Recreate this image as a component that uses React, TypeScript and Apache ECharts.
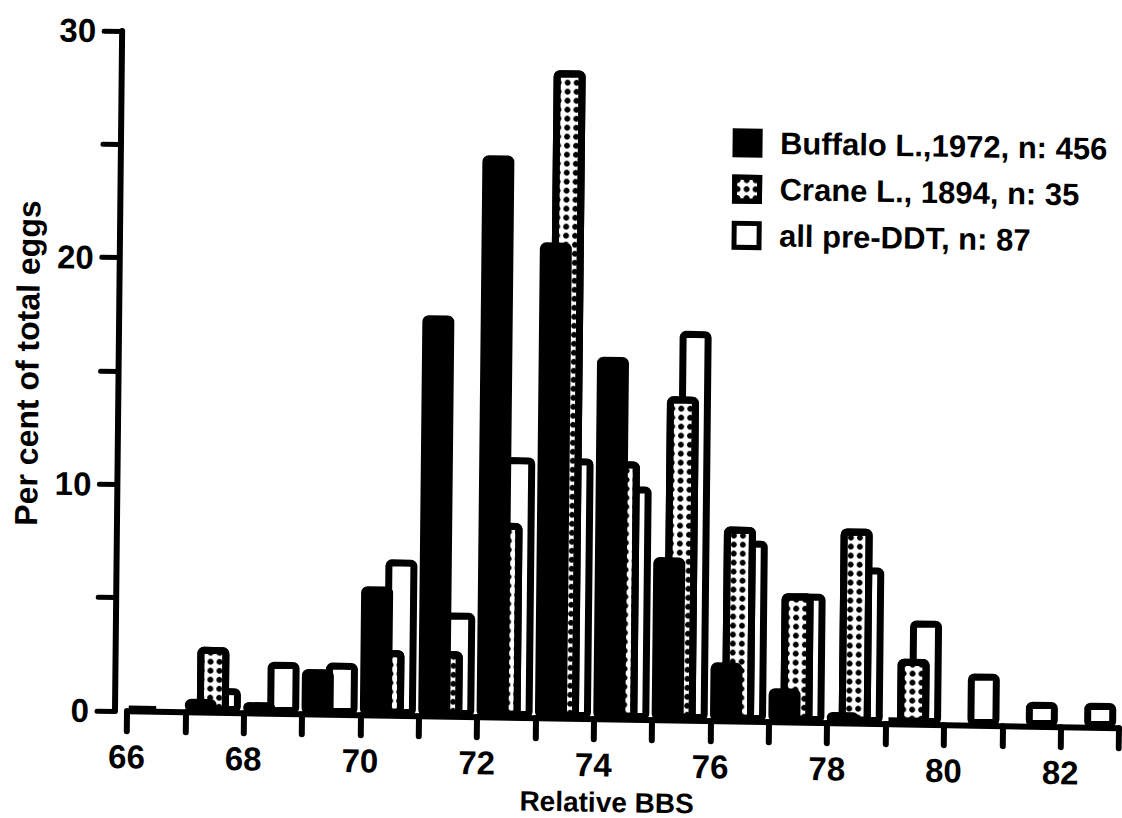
import React, { useEffect, useRef } from "react";
import * as echarts from "echarts";

// ---- data ----
const categories = [66, 67, 68, 69, 70, 71, 72, 73, 74, 75, 76, 77, 78, 79, 80, 81, 82];
const buffalo1972 = [0.2, 0.6, 0.5, 2.0, 5.7, 17.7, 24.8, 21.0, 16.0, 7.2, 2.6, 1.5, 0.5, 0.3, 0, 0, 0];
const crane1894 = [0, 2.9, 0, 0, 2.9, 2.9, 8.6, 28.6, 11.4, 14.3, 8.6, 5.7, 8.6, 2.9, 0, 0, 0];
const preDDT = [0, 1.1, 2.3, 2.3, 6.9, 4.6, 11.5, 11.5, 10.3, 17.2, 8.0, 5.7, 6.9, 4.6, 2.3, 1.1, 1.1];
const seriesNames = ["Buffalo L.,1972, n: 456", "Crane L., 1894, n: 35", "all pre-DDT, n: 87"];
const xTickLabels = [66, 68, 70, 72, 74, 76, 78, 80, 82];
const yTickLabels = [0, 10, 20, 30];

const FONT = '"Liberation Sans", Arial, Helvetica, sans-serif';
const GROUP_SHIFT = 0.47; // bars of a class sit inside the interval [k, k+1]

function toPoints(values: number[]) {
  return categories
    .map((c, i) => [c + GROUP_SHIFT, values[i]])
    .filter((p) => p[1] > 0);
}

const barCommon = {
  type: "bar" as const,
  barWidth: 32,
  barGap: "-62.5%",
};

const option: any = {
  animation: false,
  backgroundColor: "#fff",
  textStyle: { fontFamily: FONT, fontWeight: "bold", color: "#000" },
  grid: { left: 123, right: 2, top: 31, bottom: 107 },
  legend: {
    orient: "vertical",
    left: 726.5,
    top: 116.7,
    padding: 0,
    itemGap: 15.25,
    itemWidth: 25,
    itemHeight: 24,
    icon: "rect",
    selectedMode: false,
    itemStyle: { borderWidth: 5 },
    textStyle: {
      fontFamily: FONT,
      fontWeight: "bold",
      fontSize: 31,
      lineHeight: 30,
      color: "#000",
      padding: [0, 0, 0, 15],
    },
    data: seriesNames,
  },
  xAxis: {
    type: "value",
    min: 66,
    max: 83,
    interval: 1,
    axisLine: { onZero: false, lineStyle: { color: "#000", width: 6 } },
    axisTick: { length: 20, lineStyle: { color: "#000", width: 6, cap: "round" } },
    axisLabel: {
      margin: 29,
      fontFamily: FONT,
      fontWeight: "bold",
      fontSize: 33,
      color: "#000",
      formatter: (v: number) => (xTickLabels.includes(v) ? String(v) : ""),
    },
    splitLine: { show: false },
    name: "Relative BBS",
    nameLocation: "middle",
    nameGap: 69,
    nameTextStyle: {
      fontFamily: FONT,
      fontWeight: "bold",
      fontSize: 28,
      color: "#000",
      padding: [0, 31, 0, 0],
    },
  },
  yAxis: {
    type: "value",
    min: 0,
    max: 30,
    interval: 5,
    offset: 12,
    axisLine: { show: true, lineStyle: { color: "#000", width: 6 } },
    axisTick: { show: true, length: 18, lineStyle: { color: "#000", width: 5, cap: "round" } },
    axisLabel: {
      margin: 26,
      fontFamily: FONT,
      fontWeight: "bold",
      fontSize: 33,
      color: "#000",
      formatter: (v: number) => (yTickLabels.includes(v) ? String(v) : ""),
    },
    splitLine: { show: false },
    name: "Per cent of total eggs",
    nameLocation: "middle",
    nameGap: 75,
    nameTextStyle: {
      fontFamily: FONT,
      fontWeight: "bold",
      fontSize: 32,
      color: "#000",
      padding: [0, 0, 0, 13],
    },
  },
  series: [
    {
      ...barCommon,
      name: seriesNames[0],
      z: 5,
      data: toPoints(buffalo1972),
      itemStyle: { color: "#000", borderColor: "#000", borderWidth: 7, borderRadius: 3 },
    },
    {
      ...barCommon,
      name: seriesNames[1],
      z: 4,
      data: toPoints(crane1894),
      itemStyle: {
        color: "#fff",
        borderColor: "#000",
        borderWidth: 7,
        borderRadius: 3,
        decal: {
          symbol: "circle",
          symbolSize: 1,
          color: "#000",
          dashArrayX: [6, 3],
          dashArrayY: [6, 3],
        },
      },
    },
    {
      ...barCommon,
      name: seriesNames[2],
      z: 3,
      data: toPoints(preDDT),
      itemStyle: { color: "#fff", borderColor: "#000", borderWidth: 7, borderRadius: 3 },
    },
  ],
};

export default function App() {
  const ref = useRef<HTMLDivElement>(null);
  useEffect(() => {
    const chart = echarts.init(ref.current as HTMLDivElement, null, { renderer: "svg" });
    chart.setOption(option);
    return () => chart.dispose();
  }, []);
  return (
    <div
      style={{
        position: "fixed",
        left: 0,
        top: 0,
        width: 1122,
        height: 818,
        background: "#fff",
        overflow: "hidden",
      }}
    >
      <div
        ref={ref}
        style={{
          width: 1122,
          height: 818,
          transform: "matrix(1, 0.017, -0.0105, 1, 0, 0)",
          transformOrigin: "111px 711px",
        }}
      />
    </div>
  );
}
